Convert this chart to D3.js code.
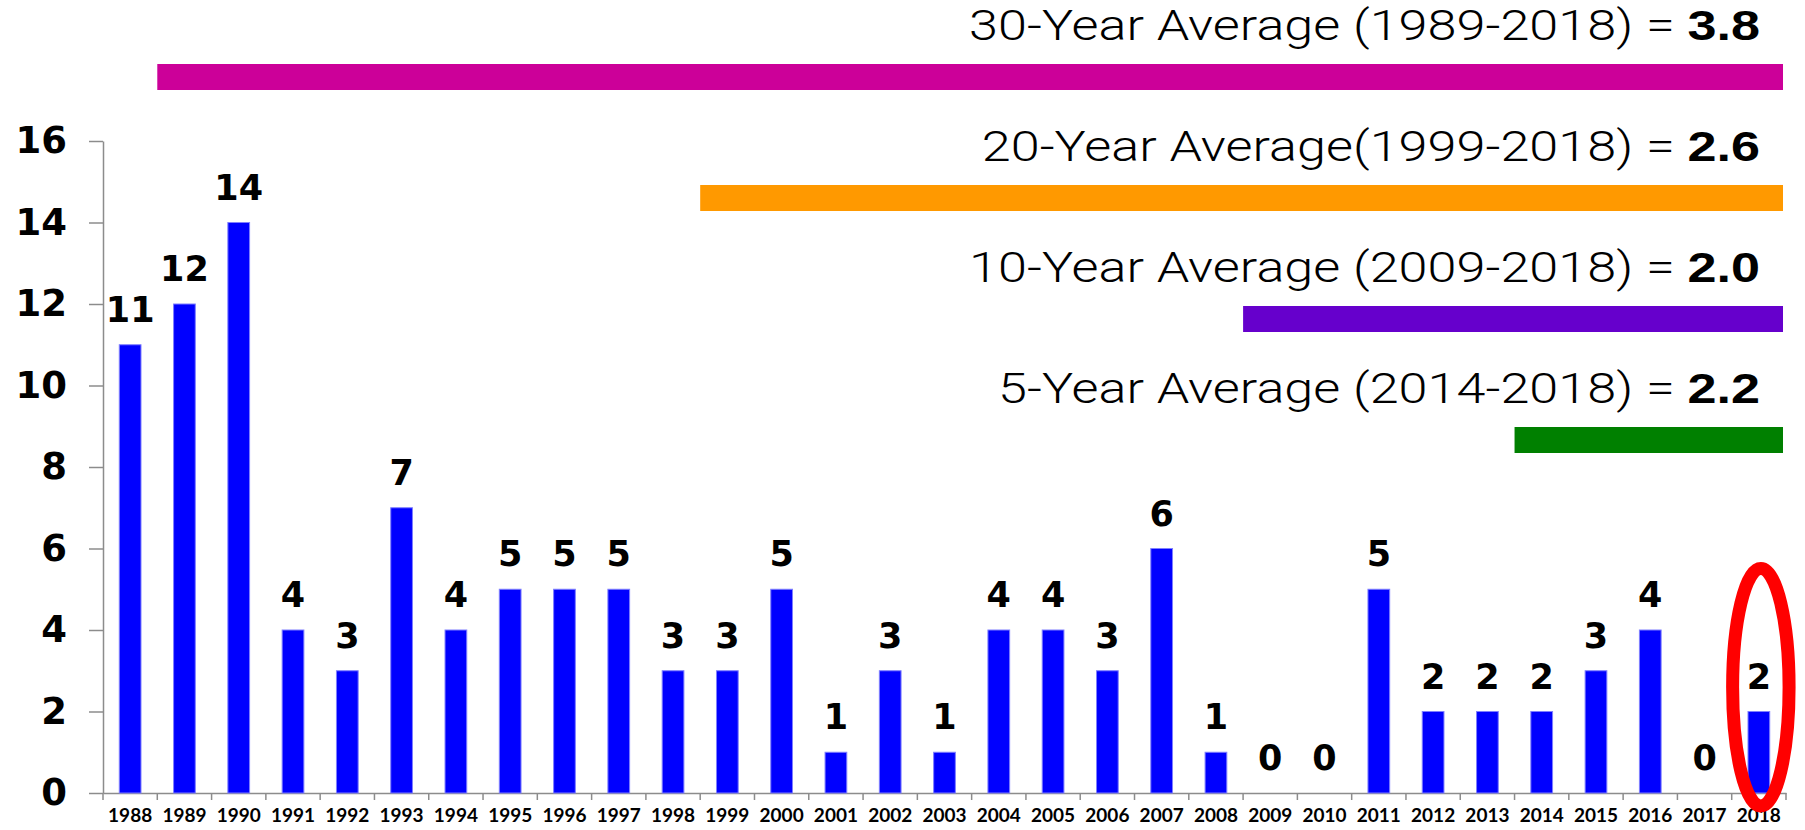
<!DOCTYPE html>
<html>
<head>
<meta charset="utf-8">
<script src="https://cdn.jsdelivr.net/npm/d3@7"></script>
<style>
  body { margin: 0; background: #fff; }
</style>
</head>
<body>
<div id="chart"></div>
<script>
// yearly counts
var years = ["1988", "1989", "1990", "1991", "1992", "1993", "1994", "1995", "1996", "1997",
             "1998", "1999", "2000", "2001", "2002", "2003", "2004", "2005", "2006", "2007",
             "2008", "2009", "2010", "2011", "2012", "2013", "2014", "2015", "2016", "2017", "2018"];
var counts = [11, 12, 14, 4, 3, 7, 4, 5, 5, 5,
              3, 3, 5, 1, 3, 1, 4, 4, 3, 6,
              1, 0, 0, 5, 2, 2, 2, 3, 4, 0, 2];
var yTicks = [0, 2, 4, 6, 8, 10, 12, 14, 16];

// average annotations
var avgLabels = ["30-Year Average (1989-2018) = ", "20-Year Average(1999-2018) = ",
                 "10-Year Average (2009-2018) = ", "5-Year Average (2014-2018) = "];
var avgValues = ["3.8", "2.6", "2.0", "2.2"];
var avgStart = ["1989", "1999", "2009", "2014"];
var avgColors = ["#cc0099", "#ff9900", "#6600cc", "#008000"];
var highlightYear = "2018";

var width = 1805, height = 830;
var margin = {top: 141, right: 19, bottom: 37, left: 103};

var svg = d3.select("#chart")
  .append("svg")
    .attr("width", width)
    .attr("height", height);

var x = d3.scaleBand()
    .domain(years)
    .range([margin.left, width - margin.right])
    .padding(0);

var y = d3.scaleLinear()
    .domain([0, 16])
    .range([height - margin.bottom, margin.top]);

var data = years.map(function(d, i) { return {year: d, value: counts[i]}; });
var barW = x.bandwidth() * 0.4;

// y axis
var yAxis = svg.append("g")
    .attr("transform", "translate(" + margin.left + ",0)")
    .call(d3.axisLeft(y).tickValues(yTicks).tickSize(14).tickSizeOuter(0).tickPadding(22));
yAxis.select(".domain").attr("stroke", "#8c8c8c").attr("stroke-width", 1.5);
yAxis.selectAll(".tick line").attr("stroke", "#8c8c8c").attr("stroke-width", 1.5);
yAxis.selectAll("text")
    .style("font-family", "DejaVu Sans, sans-serif")
    .style("font-weight", "bold")
    .style("font-size", "37px")
    .attr("fill", "#000");

// x axis: labels at centres, ticks at band edges
var xAxis = svg.append("g")
    .attr("transform", "translate(0," + y(0) + ")")
    .call(d3.axisBottom(x).tickSize(0).tickSizeOuter(0).tickPadding(16));
xAxis.select(".domain").attr("stroke", "#8c8c8c").attr("stroke-width", 1.5);
xAxis.selectAll("text")
    .style("font-family", "Lato, sans-serif")
    .style("font-weight", "bold")
    .style("font-size", "19px")
    .attr("fill", "#000");

var edges = years.map(function(d) { return x(d); }).concat([x.range()[1]]);
svg.append("g")
  .selectAll("line")
  .data(edges)
  .enter()
  .append("line")
    .attr("x1", function(d) { return d; })
    .attr("x2", function(d) { return d; })
    .attr("y1", y(0))
    .attr("y2", y(0) + 7)
    .attr("stroke", "#8c8c8c")
    .attr("stroke-width", 1.5);

// bars
svg.append("g")
  .selectAll("rect")
  .data(data)
  .enter()
  .append("rect")
    .attr("x", function(d) { return x(d.year) + (x.bandwidth() - barW) / 2; })
    .attr("y", function(d) { return y(d.value); })
    .attr("width", barW)
    .attr("height", function(d) { return y(0) - y(d.value); })
    .attr("fill", "#0000ff")
    .attr("stroke", "#7f7fff")
    .attr("stroke-width", 1);

// value labels
svg.append("g")
  .selectAll("text")
  .data(data)
  .enter()
  .append("text")
    .attr("x", function(d) { return x(d.year) + x.bandwidth() / 2; })
    .attr("y", function(d) { return y(d.value) - 23; })
    .attr("text-anchor", "middle")
    .style("font-family", "DejaVu Sans, sans-serif")
    .style("font-weight", "bold")
    .style("font-size", "35px")
    .text(function(d) { return d.value; });

// average rows
var row = d3.scalePoint()
    .domain(avgLabels)
    .range([77, 440]);
var barH = 26;
var textRight = 1760;

avgLabels.forEach(function(lbl, i) {
  var cy = row(lbl);
  svg.append("rect")
      .attr("x", x(avgStart[i]))
      .attr("y", cy - barH / 2)
      .attr("width", x.range()[1] - 3 - x(avgStart[i]))
      .attr("height", barH)
      .attr("fill", avgColors[i]);

  var t = svg.append("text")
      .attr("class", "avg")
      .attr("text-anchor", "end")
      .attr("transform", "translate(" + textRight + "," + (cy - barH / 2 - 24) + ")")
      .style("font-family", "Roboto, sans-serif")
      .style("font-weight", 300)
      .style("font-size", "42px")
      .attr("fill", "#000");
  t.append("tspan").text(lbl);
  t.append("tspan").style("font-weight", "bold").style("font-family", "Liberation Sans, sans-serif").text(avgValues[i]);
});

// squeeze the average texts so the first one spans ~791px, same factor for all
var avgTexts = svg.selectAll("text.avg");
var w0 = avgTexts.node().getComputedTextLength();
var sx = 791 / w0;
avgTexts.each(function() {
  var el = d3.select(this);
  el.attr("transform", el.attr("transform") + " scale(" + sx + ",1)");
});

// red ring round the latest year
var hv = counts[years.indexOf(highlightYear)];
var ringTop = y(hv) - 143, ringBottom = y(0) + 13;
svg.append("ellipse")
    .attr("cx", x(highlightYear) + x.bandwidth() / 2 + 2)
    .attr("cy", (ringTop + ringBottom) / 2)
    .attr("rx", x.bandwidth() * 0.52)
    .attr("ry", (ringBottom - ringTop) / 2)
    .attr("fill", "none")
    .attr("stroke", "#ff0000")
    .attr("stroke-width", 13);
</script>
</body>
</html>
